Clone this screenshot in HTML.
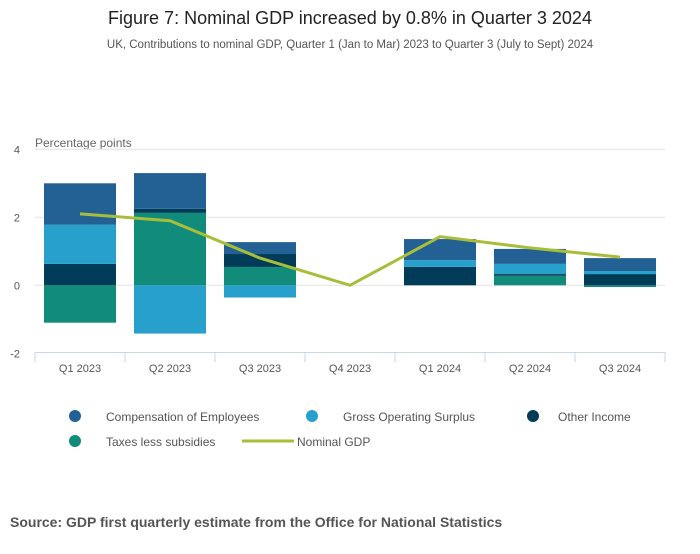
<!DOCTYPE html>
<html><head><meta charset="utf-8"><style>
body{margin:0;background:#fff;font-family:"Liberation Sans",sans-serif;}
svg text{font-family:"Liberation Sans",sans-serif;}
</style></head><body>
<svg id="c" width="700" height="549" xmlns="http://www.w3.org/2000/svg">
<text x="350" y="24" text-anchor="middle" font-size="18" fill="#222">Figure 7: Nominal GDP increased by 0.8% in Quarter 3 2024</text>
<text x="350" y="48" text-anchor="middle" font-size="11.5" fill="#555">UK, Contributions to nominal GDP, Quarter 1 (Jan to Mar) 2023 to Quarter 3 (July to Sept) 2024</text>
<text x="35" y="147" font-size="12" fill="#666">Percentage points</text>
<g id="grid"></g><g id="bars"></g><g id="line"></g><g id="axis"></g>
<g font-size="12" fill="#555">
<circle cx="75" cy="416" r="6" fill="#236093"/>
<text x="106" y="421">Compensation of Employees</text>
<circle cx="312" cy="416" r="6" fill="#27a0cc"/>
<text x="343" y="421">Gross Operating Surplus</text>
<circle cx="533" cy="416" r="6" fill="#003c57"/>
<text x="558" y="421">Other Income</text>
<circle cx="75" cy="441" r="6" fill="#118c7b"/>
<text x="106" y="446">Taxes less subsidies</text>
<line x1="242" y1="441" x2="294" y2="441" stroke="#a8bd3a" stroke-width="3"/>
<text x="297" y="446">Nominal GDP</text>
</g>
<text x="10" y="527" font-size="14" font-weight="bold" fill="#555">Source: GDP first quarterly estimate from the Office for National Statistics</text>
</svg>
<script>
const categories=["Q1 2023","Q2 2023","Q3 2023","Q4 2023","Q1 2024","Q2 2024","Q3 2024"];
const taxes=[-1.1,2.13,0.54,0,0,0.28,-0.05];
const otherIncome=[0.63,0.12,0.38,0,0.54,0.05,0.33];
const gos=[1.15,-1.42,-0.36,0,0.2,0.3,0.09];
const coe=[1.22,1.05,0.35,0,0.62,0.44,0.38];
const gdp=[2.1,1.9,0.8,0,1.43,1.1,0.83];
const yTicks=[-2,0,2,4];
const NS="http://www.w3.org/2000/svg";
const x0=35,band=90,bw=72;
function y(v){return 285.3-v*34;}
function xc(i){return x0+band/2+band*i;}
function mk(t,a,p){const e=document.createElementNS(NS,t);for(const k in a)e.setAttribute(k,a[k]);p.appendChild(e);return e;}
const grid=document.getElementById('grid'),bars=document.getElementById('bars'),line=document.getElementById('line'),axis=document.getElementById('axis');
yTicks.forEach(t=>{
 if(t>-2){const l=mk('line',{x1:x0,x2:665,y1:y(t),y2:y(t),stroke:'#e2e2e2'},grid);
 
 }
 const tx=mk('text',{x:20,y:y(t)+4,'text-anchor':'end','font-size':11,fill:'#555'},grid);tx.textContent=t;
 
 
});
const series=[["taxes",taxes,"#118c7b"],["other-income",otherIncome,"#003c57"],["gos",gos,"#27a0cc"],["coe",coe,"#236093"]];
categories.forEach((c,i)=>{
 let pos=0,neg=0;
 series.forEach(([n,arr,col])=>{
  const v=arr[i];if(v===0)return;
  let a,b;if(v>0){a=pos;b=pos+v;pos=b;}else{a=neg;b=neg+v;neg=b;}
  const r=mk('rect',{x:xc(i)-bw/2,y:Math.min(y(a),y(b)),width:bw,height:Math.abs(y(a)-y(b)),fill:col},bars);
  
  
 });
 const t=mk('text',{x:xc(i),y:372,'text-anchor':'middle','font-size':11,fill:'#555'},axis);t.textContent=c;
 
 
});
const ax=mk('line',{x1:x0,x2:665,y1:352.5,y2:352.5,stroke:'#c8d6ea'},axis);


for(let i=0;i<=categories.length;i++){const tk=mk('line',{x1:x0+band*i,x2:x0+band*i,y1:352,y2:362,stroke:'#c8d6ea'},axis);
 
 }
const pl=mk('polyline',{points:gdp.map((v,i)=>xc(i)+','+y(v)).join(' '),fill:'none',stroke:'#a8bd3a','stroke-width':3},line);


</script>
</body></html>
